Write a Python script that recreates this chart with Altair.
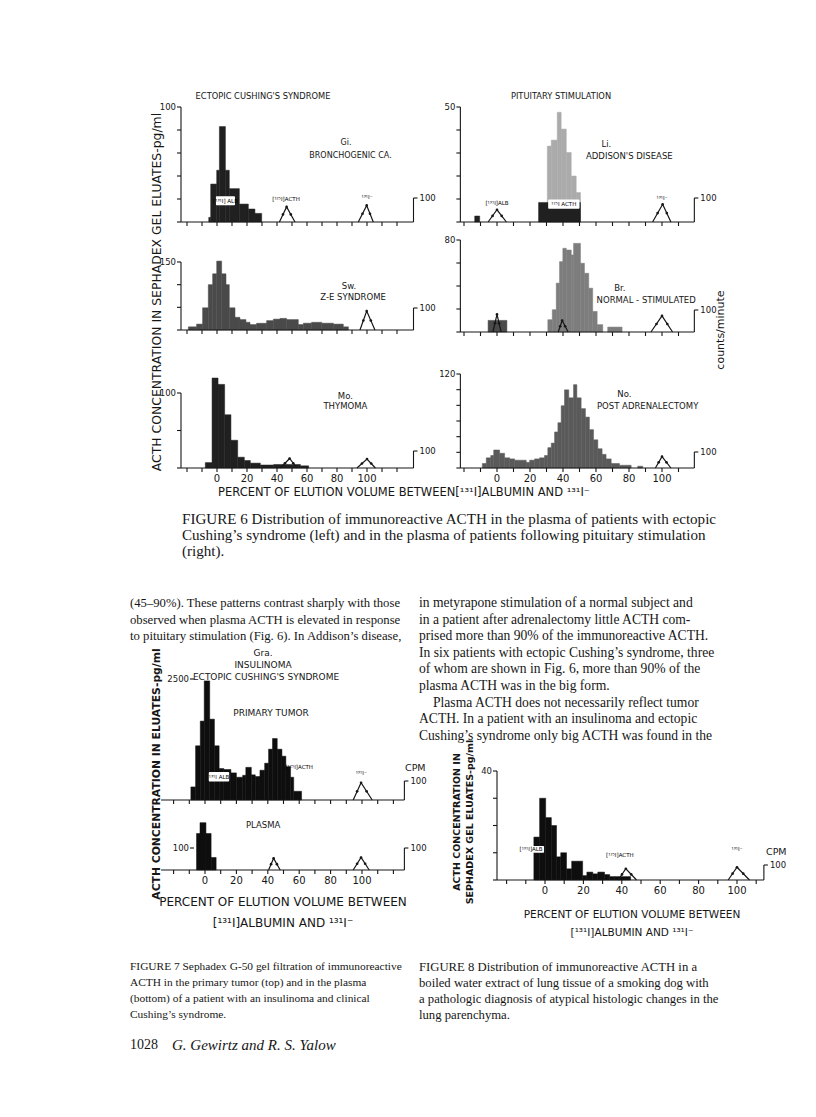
import altair as alt
import pandas as pd

INK = "#161616"
OFF = 8
W, H = 800, 1101
SANS = "DejaVu Sans"
SERIF = "Liberation Serif"

# ---------------------------------------------------------------- data
# Figure 6 (bins: start %, end %, ACTH pg/ml)
GI_A = [-5.5, -4.2, -0.2, 1.6, 5.6, 8.2, 14.9, 20.9, 25.3]
GI_B = [-4.2, -0.2, 1.6, 5.6, 8.2, 14.9, 20.9, 25.3, 29.8]
GI_V = [4, 33, 45, 83, 45, 29, 15.6, 11.3, 7.5]

LI_A = [30.5, 32.9, 36.5, 38.9, 42, 45, 48]
LI_B = [32.9, 36.5, 38.9, 42, 45, 48, 50.6]
LI_V = [33, 35.6, 47.7, 40.4, 30.2, 20, 12.8]
LI_DA = [-13.5, 25.2]
LI_DB = [-10.5, 50.6]
LI_DV = [2.6, 8.5]

SW_A = [-19.1, -13.6, -9.6, -5.8, -2.9, -0.2, 3.1, 6.0, 8.2, 12, 15.3, 19.3, 22, 26.4,
        33.1, 37.6, 42, 46.4, 54.2, 57.6, 63.1, 69.8, 77.6, 84.2]
SW_B = [-13.6, -9.6, -5.8, -2.9, -0.2, 3.1, 6.0, 8.2, 12, 15.3, 19.3, 22, 26.4, 33.1,
        37.6, 42, 46.4, 54.2, 57.6, 63.1, 69.8, 77.6, 84.2, 87.6]
SW_V = [7, 13, 49, 100, 124, 152, 124, 100, 49, 28, 23, 17, 12, 14.8,
        20.7, 24, 25.6, 23, 12, 15, 17, 15, 13, 7]

BR_A = [30.8, 33.5, 35.9, 37.9, 39.9, 42, 45, 46.4, 50.6, 53, 55.6, 58, 60.7, 67.1]
BR_B = [33.5, 35.9, 37.9, 39.9, 42, 45, 46.4, 50.6, 53, 55.6, 58, 60.7, 64.1, 75.8]
BR_V = [10.7, 19.4, 42.5, 61.2, 72.8, 71.3, 67, 77.1, 59.8, 51.1, 38.1, 17.9, 6.4, 4.3]
BR_DA = [-5.4]
BR_DB = [6.0]
BR_DV = [10.1]

MO_A = [-7.8, -3.3, 0.7, 5.1, 9.3, 13.8, 18.2, 22.2, 28.9, 37.8, 46.7, 55.6]
MO_B = [-3.3, 0.7, 5.1, 9.3, 13.8, 18.2, 22.2, 28.9, 37.8, 46.7, 55.6, 61.1]
MO_V = [7.2, 120, 111.5, 71, 37, 14.4, 10, 6.5, 4, 4.7, 4.7, 2.9]

NO_A = [-8.9, -6.5, -3.8, -2, 1.6, 4.6, 7.7, 10.7, 17.7, 19.8, 22.8, 25.8, 28.8, 30.8,
        32.9, 34.9, 36.9, 38.9, 40.9, 43.5, 46.4, 48.4, 51, 53.6, 56, 58.5, 61.1, 63.7,
        66.1, 69.2, 74.2, 85.3]
NO_B = [-6.5, -3.8, -2, 1.6, 4.6, 7.7, 10.7, 17.7, 19.8, 22.8, 25.8, 28.8, 30.8, 32.9,
        34.9, 36.9, 38.9, 40.9, 43.5, 46.4, 48.4, 51, 53.6, 56, 58.5, 61.1, 63.7, 66.1,
        69.2, 74.2, 81.3, 88.3]
NO_V = [5.8, 13, 16, 23, 18.8, 13, 11.6, 10, 7.2, 10, 11.6, 13, 16, 26,
        31.8, 46, 57.8, 79.5, 99.8, 89.6, 106.4, 89.6, 75.8, 65, 49, 36, 24.6, 17.4,
        11.6, 5.8, 3.5, 2.3]

# Figure 7
TUMOR_A = [-9, -6, -3, -0.5, 3, 6, 9, 12, 16.5, 20, 24, 26, 29.5, 32, 35, 38, 40.5, 43, 46,
           49, 51.5, 54.5, 56.5]
TUMOR_B = [-6, -3, -0.5, 3, 6, 9, 12, 16.5, 20, 24, 26, 29.5, 32, 35, 38, 40.5, 43, 46, 49,
           51.5, 54.5, 56.5, 61.5]
TUMOR_V = [270, 1120, 1630, 2460, 1670, 1120, 650, 630, 560, 470, 510, 675, 520, 485, 615,
           760, 1050, 1270, 1050, 905, 690, 470, 180]
PLASMA_A = [-5.4, -3.2, 0.6, 3.9]
PLASMA_B = [-3.2, 0.6, 3.9, 7.1]
PLASMA_V = [166, 215, 166, 57]

# Figure 8
DOG_A = [-5.8, -2.8, 0.35, 3.3, 6, 8.2, 11.2, 13.9, 19.6, 21.8, 24.9, 27.5, 31, 33.7, 36.3]
DOG_B = [-2.8, 0.35, 3.3, 6, 8.2, 11.2, 13.9, 19.6, 21.8, 24.9, 27.5, 31, 33.7, 36.3, 44.6]
DOG_V = [15.75, 30, 22.9, 20, 8.5, 10, 4.1, 6.9, 1.6, 2.9, 2.25, 2.9, 2, 1.25, 1.25]

# radioactivity marker peaks: start, peak, end (%), peak height (cpm, of 100)
GI_TRI = [(41.6, 46.4, 52, 63), (94.2, 99.8, 104.2, 69)]
LI_TRI = [(-5.4, 0, 5.7, 51), (94.3, 100.4, 105.4, 74)]
SW_TRI = [(95.3, 99.8, 105.3, 86)]
BR_TRI = [(-2.5, 0, 2.5, 80), (37.1, 39.5, 43.1, 52), (93.3, 100, 106.4, 73)]
MO_TRI = [(42.2, 48.4, 53.3, 56), (93.3, 100, 105.6, 53)]
NO_TRI = [(96, 100, 105.4, 71)]
TUMOR_TRI = [(94.4, 99.4, 106.5, 91)]
PLASMA_TRI = [(40.5, 43.7, 47.9, 53), (94.4, 99.4, 104.6, 57)]
DOG_TRI = [(38.1, 42.1, 47.7, 75), (95.4, 100, 106.5, 85)]

X_LABELS = [0, 20, 40, 60, 80, 100]

# text
FIG6_CAPTION = [
    "FIGURE 6  Distribution of immunoreactive ACTH in the plasma of patients with ectopic",
    "Cushing’s syndrome (left) and in the plasma of patients following pituitary stimulation",
    "(right).",
]
BODY_LEFT = [
    "(45–90%). These patterns contrast sharply with those",
    "observed when plasma ACTH is elevated in response",
    "to pituitary stimulation (Fig. 6). In Addison’s disease,",
]
BODY_RIGHT = [
    "in metyrapone stimulation of a normal subject and",
    "in a patient after adrenalectomy little ACTH com-",
    "prised more than 90% of the immunoreactive ACTH.",
    "In six patients with ectopic Cushing’s syndrome, three",
    "of whom are shown in Fig. 6, more than 90% of the",
    "plasma ACTH was in the big form.",
    "Plasma ACTH does not necessarily reflect tumor",
    "ACTH. In a patient with an insulinoma and ectopic",
    "Cushing’s syndrome only big ACTH was found in the",
]
BODY_RIGHT_INDENT = [0, 0, 0, 0, 0, 0, 14, 0, 0]
FIG7_CAPTION = [
    "FIGURE 7  Sephadex G-50 gel filtration of immunoreactive",
    "ACTH in the primary tumor (top) and in the plasma",
    "(bottom) of a patient with an insulinoma and clinical",
    "Cushing’s syndrome.",
]
FIG8_CAPTION = [
    "FIGURE 8  Distribution of immunoreactive ACTH in a",
    "boiled water extract of lung tissue of a smoking dog with",
    "a pathologic diagnosis of atypical histologic changes in the",
    "lung parenchyma.",
]
XTITLE = "PERCENT OF ELUTION VOLUME BETWEEN[¹³¹I]ALBUMIN AND ¹³¹I⁻"
XTITLE_1 = "PERCENT OF ELUTION VOLUME BETWEEN"
XTITLE_2 = "[¹³¹I]ALBUMIN AND ¹³¹I⁻"

# ---------------------------------------------------------------- helpers
PX = alt.Scale(domain=[0, 816], range=[-OFF, 816 - OFF], nice=False, zero=False)
PY = alt.Scale(domain=[0, 1117], range=[-OFF, 1117 - OFF], nice=False, zero=False)


def sx(p0, p100):
    return alt.Scale(domain=[0, 100], range=[p0 - OFF, p100 - OFF], nice=False, zero=False)


def sy(base, top, vmax):
    return alt.Scale(domain=[0, vmax], range=[base - OFF, top - OFF], nice=False, zero=False)


def text_layer(texts, xs, ys, size, font=SANS, align="left", angle=0, weight="normal",
               style="normal", color=INK):
    df = pd.DataFrame({"t": texts, "x": xs, "y": ys})
    return alt.Chart(df).mark_text(
        font=font, fontSize=size, align=align, baseline="middle", angle=angle,
        fontWeight=weight, fontStyle=style, color=color,
    ).encode(
        x=alt.X("x:Q", scale=PX, axis=None),
        y=alt.Y("y:Q", scale=PY, axis=None),
        text="t:N",
    )


def panel(g, bar_sets, tris, notes=(), tiny=(), boxes=(), xlabels=False, yticks=True,
          note_size=8.5):
    X = sx(g["x0"], g["x100"])
    Y = sy(g["base"], g["top"], g["vmax"])
    C = sy(g["base"], g["rtop"], 100)
    ytx = g.get("ytx", g["axl"])
    out = []

    def ex(f):
        return alt.X(f, type="quantitative", scale=X, axis=None)

    def ey(f, s=Y):
        return alt.Y(f, type="quantitative", scale=s, axis=None)

    for a, b, v, color in bar_sets:
        df = pd.DataFrame({"a": a, "b": b, "v": v})
        df["z"] = 0
        out.append(alt.Chart(df).mark_rect(color=color, stroke=color, strokeWidth=0.5).encode(
            x=ex("a"), x2="b", y=ey("v"), y2="z"))

    ax = pd.DataFrame({"l": [g["axl"]], "r": [g["axr"]], "z": [0], "t": [g["vmax"]],
                       "h": [100], "lab": [str(g["vmax"])], "rl": ["100"], "yx": [ytx]})
    rule = dict(color=INK, strokeWidth=1.1)
    out.append(alt.Chart(ax).mark_rule(**rule).encode(x=ex("l"), x2="r", y=ey("z")))
    if not g.get("noyaxis"):
        out.append(alt.Chart(ax).mark_rule(**rule).encode(x=ex("l"), y=ey("z"), y2="t"))
    out.append(alt.Chart(ax).mark_rule(**rule).encode(x=ex("r"), y=ey("z", C), y2="h"))
    out.append(alt.Chart(ax).mark_rule(x2Offset=4, **rule).encode(x=ex("r"), x2="r", y=ey("h", C)))
    out.append(alt.Chart(ax).mark_text(font=SANS, fontSize=8.5, align="left", dx=6,
                                       baseline="middle", color=INK).encode(
        x=ex("r"), y=ey("h", C), text="rl:N"))
    out.append(alt.Chart(ax).mark_text(font=SANS, fontSize=8.5, align="right", dx=-5,
                                       baseline="middle", color=INK).encode(
        x=ex("yx"), y=ey("t"), text="lab:N"))

    vals = list(range(0, int(g["vmax"]) + 1, g["step"])) if yticks else [g["vmax"]]
    yt = pd.DataFrame({"v": vals})
    yt["l"] = ytx
    out.append(alt.Chart(yt).mark_rule(x2Offset=-4, **rule).encode(
        x=ex("l"), x2="l", y=ey("v")))

    xt = pd.DataFrame({"t": [t for t in range(-30, 140, 10) if g["axl"] < t < g["axr"] - 3]})
    xt["z"] = 0
    out.append(alt.Chart(xt).mark_rule(y2Offset=4, **rule).encode(x=ex("t"), y=ey("z"), y2="z"))

    if xlabels:
        xl = pd.DataFrame({"t": X_LABELS, "lab": [str(v) for v in X_LABELS]})
        xl["z"] = 0
        out.append(alt.Chart(xl).mark_text(font=SANS, fontSize=10, baseline="top", dy=6,
                                           color=INK).encode(x=ex("t"), y=ey("z"), text="lab:N"))

    if tris:
        rows = []
        pts = []
        for i, (s, p, e, h) in enumerate(tris):
            rows += [(i, 0, s, 0), (i, 1, p, h), (i, 2, e, 0)]
            pts += [(p, h), ((s + p) / 2, h / 2), ((p + e) / 2, h / 2)]
        td = pd.DataFrame(rows, columns=["id", "o", "x", "c"])
        out.append(alt.Chart(td).mark_line(color=INK, strokeWidth=1.2).encode(
            x=ex("x"), y=ey("c", C), detail="id:N", order="o:Q"))
        pd_ = pd.DataFrame(pts, columns=["x", "c"])
        out.append(alt.Chart(pd_).mark_point(filled=True, size=7, color=INK, opacity=1).encode(
            x=ex("x"), y=ey("c", C)))

    if boxes:
        bd = pd.DataFrame(boxes, columns=["t", "a", "b", "lo", "hi"])
        bd["xm"] = (bd["a"] + bd["b"]) / 2
        bd["ym"] = (bd["lo"] + bd["hi"]) / 2
        out.append(alt.Chart(bd).mark_rect(color="white", cornerRadius=1).encode(
            x=ex("a"), x2="b", y=ey("lo"), y2="hi"))
        out.append(alt.Chart(bd).mark_text(font=SANS, fontSize=5.5, color="#000000",
                                           baseline="middle").encode(
            x=ex("xm"), y=ey("ym"), text="t:N"))

    if tiny:
        nd = pd.DataFrame(tiny, columns=["t", "x", "y"])
        out.append(alt.Chart(nd).mark_text(font=SANS, fontSize=5.5, color="#000000",
                                           baseline="middle").encode(
            x=ex("x"), y=ey("y"), text="t:N"))

    if notes:
        nd = pd.DataFrame(notes, columns=["t", "x", "y"])
        out.append(alt.Chart(nd).mark_text(font=SANS, fontSize=note_size, color=INK,
                                           baseline="middle").encode(
            x=ex("x"), y=ey("y"), text="t:N"))
    return out


# ---------------------------------------------------------------- layout
L6 = dict(x0=217, x100=367, axl=-24, axr=131)
R6 = dict(x0=497, x100=662, axl=-22.2, axr=119.6)
G_TL = dict(L6, base=222, top=107, vmax=100, step=20, rtop=198)
G_TR = dict(R6, base=222, top=107, vmax=50, step=10, rtop=198)
G_ML = dict(L6, base=330, top=262, vmax=150, step=50, rtop=308)
G_MR = dict(R6, base=332, top=240, vmax=80, step=20, rtop=310)
G_BL = dict(L6, base=468, top=393, vmax=100, step=50, rtop=451)
G_BR = dict(R6, base=468, top=374, vmax=120, step=20, rtop=452)

G7T = dict(x0=205, x100=362, axl=-28, axr=127, ytx=-7, noyaxis=True,
           base=800, top=679, vmax=2500, step=500, rtop=781)
G7B = dict(x0=205, x100=362, axl=-28, axr=127, ytx=-7, noyaxis=True,
           base=870, top=848, vmax=100, step=100, rtop=848)
G8 = dict(x0=545, x100=737, axl=-25, axr=114, base=880, top=771, vmax=40, step=10, rtop=865)

DARK = "#202020"
MID = "#4a4a4a"

layers = []
layers += panel(G_TL, [(GI_A, GI_B, GI_V, DARK)], GI_TRI,
                notes=[("Gi.", 86, 69), ("BRONCHOGENIC  CA.", 89, 57.6)], note_size=8,
                boxes=[("[¹³¹I] ALB", -0.7, 12, 14.5, 22.5)],
                tiny=[("[¹²⁵I]ACTH", 46, 20), ("¹³¹I⁻", 100, 21.5)])
layers += panel(G_TR, [(LI_A, LI_B, LI_V, "#ababab"), (LI_DA, LI_DB, LI_DV, DARK)], LI_TRI,
                notes=[("Li.", 66.3, 33.9), ("ADDISON'S  DISEASE", 80.2, 28.6)],
                boxes=[("¹²⁵I  ACTH", 31, 50, 5.8, 9.8)],
                tiny=[("[¹³¹I]ALB", 0, 8.2), ("¹³¹I⁻", 100, 10.6)])
layers += panel(G_ML, [(SW_A, SW_B, SW_V, MID)], SW_TRI,
                notes=[("Sw.", 88, 97.6), ("Z-E  SYNDROME", 90.7, 73)])
layers += panel(G_MR, [(BR_A, BR_B, BR_V, "#7d7d7d"), (BR_DA, BR_DB, BR_DV, MID)], BR_TRI,
                notes=[("Br.", 74.4, 38.4), ("NORMAL - STIMULATED", 90.4, 28)])
layers += panel(G_BL, [(MO_A, MO_B, MO_V, DARK)], MO_TRI, xlabels=True,
                notes=[("Mo.", 85.6, 96.4), ("THYMOMA", 85.6, 83)])
layers += panel(G_BR, [(NO_A, NO_B, NO_V, "#5a5a5a")], NO_TRI, xlabels=True,
                notes=[("No.", 77.2, 94), ("POST  ADRENALECTOMY", 91.3, 79)])

layers += panel(G7T, [(TUMOR_A, TUMOR_B, TUMOR_V, "#0e0e0e")], TUMOR_TRI, yticks=False,
                boxes=[("¹³¹I ALB", 2.4, 15.4, 380, 580)],
                tiny=[("[¹²⁵I]ACTH", 60, 680), ("¹³¹I⁻", 99.5, 560)])
layers += panel(G7B, [(PLASMA_A, PLASMA_B, PLASMA_V, "#0e0e0e")], PLASMA_TRI, yticks=False,
                xlabels=True, notes=[("PLASMA", 37, 205)])
layers += panel(G8, [(DOG_A, DOG_B, DOG_V, "#0e0e0e")], DOG_TRI, xlabels=True,
                boxes=[("[¹³¹I]ALB", -14, -0.5, 10, 12.5)],
                tiny=[("[¹²⁵I]ACTH", 39, 9.3), ("¹³¹I⁻", 100, 11.3)])

# figure lettering (page coordinates)
layers.append(text_layer(["ECTOPIC  CUSHING'S  SYNDROME", "PITUITARY  STIMULATION"],
                         [263, 561], [97, 97], 8.3, align="center"))
layers.append(text_layer(["ACTH CONCENTRATION IN SEPHADEX GEL ELUATES-pg/ml"], [157], [292],
                         12.4, align="center", angle=270))
layers.append(text_layer(["counts/minute"], [721], [330], 11, align="center", angle=270))
layers.append(text_layer([XTITLE], [404], [493], 11.5, align="center"))

layers.append(text_layer(["Gra.", "INSULINOMA", "ECTOPIC CUSHING'S SYNDROME", "PRIMARY  TUMOR"],
                         [263, 263, 266, 271], [653, 665, 677, 713], 9, align="center"))
layers.append(text_layer(["ACTH CONCENTRATION IN ELUATES-pg/ml"], [157], [774], 10.8,
                         align="center", angle=270, weight="bold"))
layers.append(text_layer([XTITLE_1, XTITLE_2], [283, 283], [902, 923], 12, align="center"))
layers.append(text_layer(["CPM"], [405], [768], 9.5, align="left"))

layers.append(text_layer(["ACTH CONCENTRATION IN", "SEPHADEX GEL ELUATES-pg/ml"], [457, 470],
                         [822, 822], 9.5, align="center", angle=270, weight="bold"))
layers.append(text_layer([XTITLE_1, XTITLE_2], [632, 632], [915, 933], 10.5, align="center"))
layers.append(text_layer(["CPM"], [766], [852], 9.5, align="left"))

# journal text
layers.append(text_layer(FIG6_CAPTION, [182] * 3, [519 + 16 * i for i in range(3)], 15.1,
                         font=SERIF))
layers.append(text_layer(BODY_LEFT, [130] * 3, [603 + 16.6 * i for i in range(3)], 12.7,
                         font=SERIF))
layers.append(text_layer(BODY_RIGHT, [419 + d for d in BODY_RIGHT_INDENT],
                         [603 + 16.6 * i for i in range(9)], 13.6, font=SERIF))
layers.append(text_layer(FIG7_CAPTION, [130] * 4, [967 + 16 * i for i in range(4)], 11.4,
                         font=SERIF))
layers.append(text_layer(FIG8_CAPTION, [419] * 4, [967 + 16 * i for i in range(4)], 12.7,
                         font=SERIF))
layers.append(text_layer(["1028"], [130], [1045], 14, font=SERIF))
layers.append(text_layer(["G. Gewirtz and R. S. Yalow"], [172], [1045], 15, font=SERIF,
                         style="italic"))

chart = alt.layer(*layers).resolve_scale(x="independent", y="independent").properties(
    width=W, height=H, padding=0, autosize=alt.AutoSizeParams(type="none"),
    background="white",
).configure_view(stroke=None)

chart.save("out.html", embed_options={"renderer": "svg", "actions": False})
